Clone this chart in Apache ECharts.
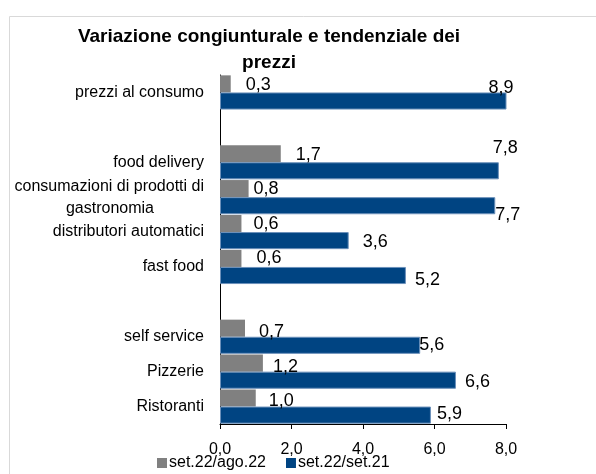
<!DOCTYPE html>
<html>
<head>
<meta charset="utf-8">
<script src="https://cdn.jsdelivr.net/npm/echarts@6/dist/echarts.min.js"></script>
<style>
  html, body { margin: 0; padding: 0; background: #fff; }
  #chart { width: 596px; height: 474px; }
</style>
</head>
<body>
<div id="chart"></div>
<script>
// categories top to bottom, '' = empty spacer row
const categories = [
  'prezzi al consumo', '', 'food delivery',
  'consumazioni di prodotti di\ngastronomia',
  'distributori automatici', 'fast food', '',
  'self service', 'Pizzerie', 'Ristoranti'
]
const congiunturale = [0.3, null, 1.7, 0.8, 0.6, 0.6, null, 0.7, 1.2, 1.0]
const tendenziale = [8.9, null, 7.8, 7.7, 3.6, 5.2, null, 5.6, 6.6, 5.9]
const seriesNames = ['set.22/ago.22', 'set.22/set.21']
const titleLines = ['Variazione congiunturale e tendenziale dei', 'prezzi']
const xTicks = { min: 0, max: 8, interval: 2 }

// label nudges [dx, dy] so they sit where the original put them
const grayNudge = [[15, 1], null, [15, 1], [5, 0], [12, 1], [15, 0], null, [14, 4], [10, 4], [13, 3]]
const blueNudge = [[-18, -13], null, [-6, -23], [0, 9], [14, 1], [9, 5], null, [-1, 0], [9, 2], [6, -1]]

const font = 'Arial, "Liberation Sans", sans-serif'
const fmt = v => v.toFixed(1).replace('.', ',')

const buildData = (vals, nudge) => vals.map((v, i) => {
  if (v == null) return '-'
  return { value: v, label: { offset: nudge[i] } }
})

const titleStyle = { fontFamily: font, fontSize: 19, fontWeight: 'bold', color: '#000', lineHeight: 19 }

const chart = echarts.init(document.getElementById('chart'))
chart.setOption({
  animation: false,
  textStyle: { fontFamily: font },
  graphic: [{
    type: 'rect',
    shape: { x: 9.5, y: 16.5, width: 620, height: 480 },
    style: { fill: 'none', stroke: '#d9d9d9', lineWidth: 1 },
    silent: true
  }],
  title: [
    { text: titleLines[0], left: 269, top: 27, textAlign: 'center', padding: 0, textStyle: titleStyle },
    { text: titleLines[1], left: 269, top: 53, textAlign: 'center', padding: 0, textStyle: titleStyle }
  ],
  legend: {
    data: seriesNames,
    left: 157,
    top: 455,
    padding: 0,
    icon: 'rect',
    itemWidth: 10,
    itemHeight: 10,
    itemGap: 20,
    itemStyle: { borderWidth: 0 },
    textStyle: { fontFamily: font, fontSize: 16, color: '#000', padding: [0, 0, 0, -3] }
  },
  grid: { left: 220, right: 90, top: 75, bottom: 50 },
  xAxis: {
    type: 'value',
    ...xTicks,
    axisLine: { show: true, lineStyle: { color: '#000' } },
    axisTick: { show: true, length: 5, lineStyle: { color: '#000' } },
    splitLine: { show: false },
    axisLabel: { fontSize: 16, color: '#000', margin: 18, formatter: v => fmt(v) }
  },
  yAxis: {
    type: 'category',
    inverse: true,
    data: categories,
    axisLine: { show: true, lineStyle: { color: '#000' } },
    axisTick: { show: false },
    axisLabel: {
      fontSize: 16,
      color: '#000',
      margin: 16,
      formatter: v => {
        const parts = v.split('\n')
        if (parts.length === 1) return '{a|' + v + '}'
        return '{a|' + parts[0] + '}\n{c|' + parts[1] + '}'
      },
      rich: {
        a: { fontSize: 16, fontFamily: font, color: '#000', lineHeight: 22 },
        c: { fontSize: 16, fontFamily: font, color: '#000', lineHeight: 22, padding: [0, 50, 0, 0] }
      }
    }
  },
  series: [
    {
      name: seriesNames[0],
      type: 'bar',
      data: buildData(congiunturale, grayNudge),
      barGap: '0%',
      barCategoryGap: '2%',
      itemStyle: { color: '#808080' },
      label: {
        show: true, position: 'right', distance: 0,
        fontSize: 18, color: '#000', fontFamily: font,
        formatter: p => fmt(p.value)
      }
    },
    {
      name: seriesNames[1],
      type: 'bar',
      data: buildData(tendenziale, blueNudge),
      itemStyle: { color: '#004482', borderColor: '#6b90ba', borderWidth: 1 },
      label: {
        show: true, position: 'right', distance: 0,
        fontSize: 18, color: '#000', fontFamily: font,
        formatter: p => fmt(p.value)
      }
    }
  ]
})
</script>
</body>
</html>
